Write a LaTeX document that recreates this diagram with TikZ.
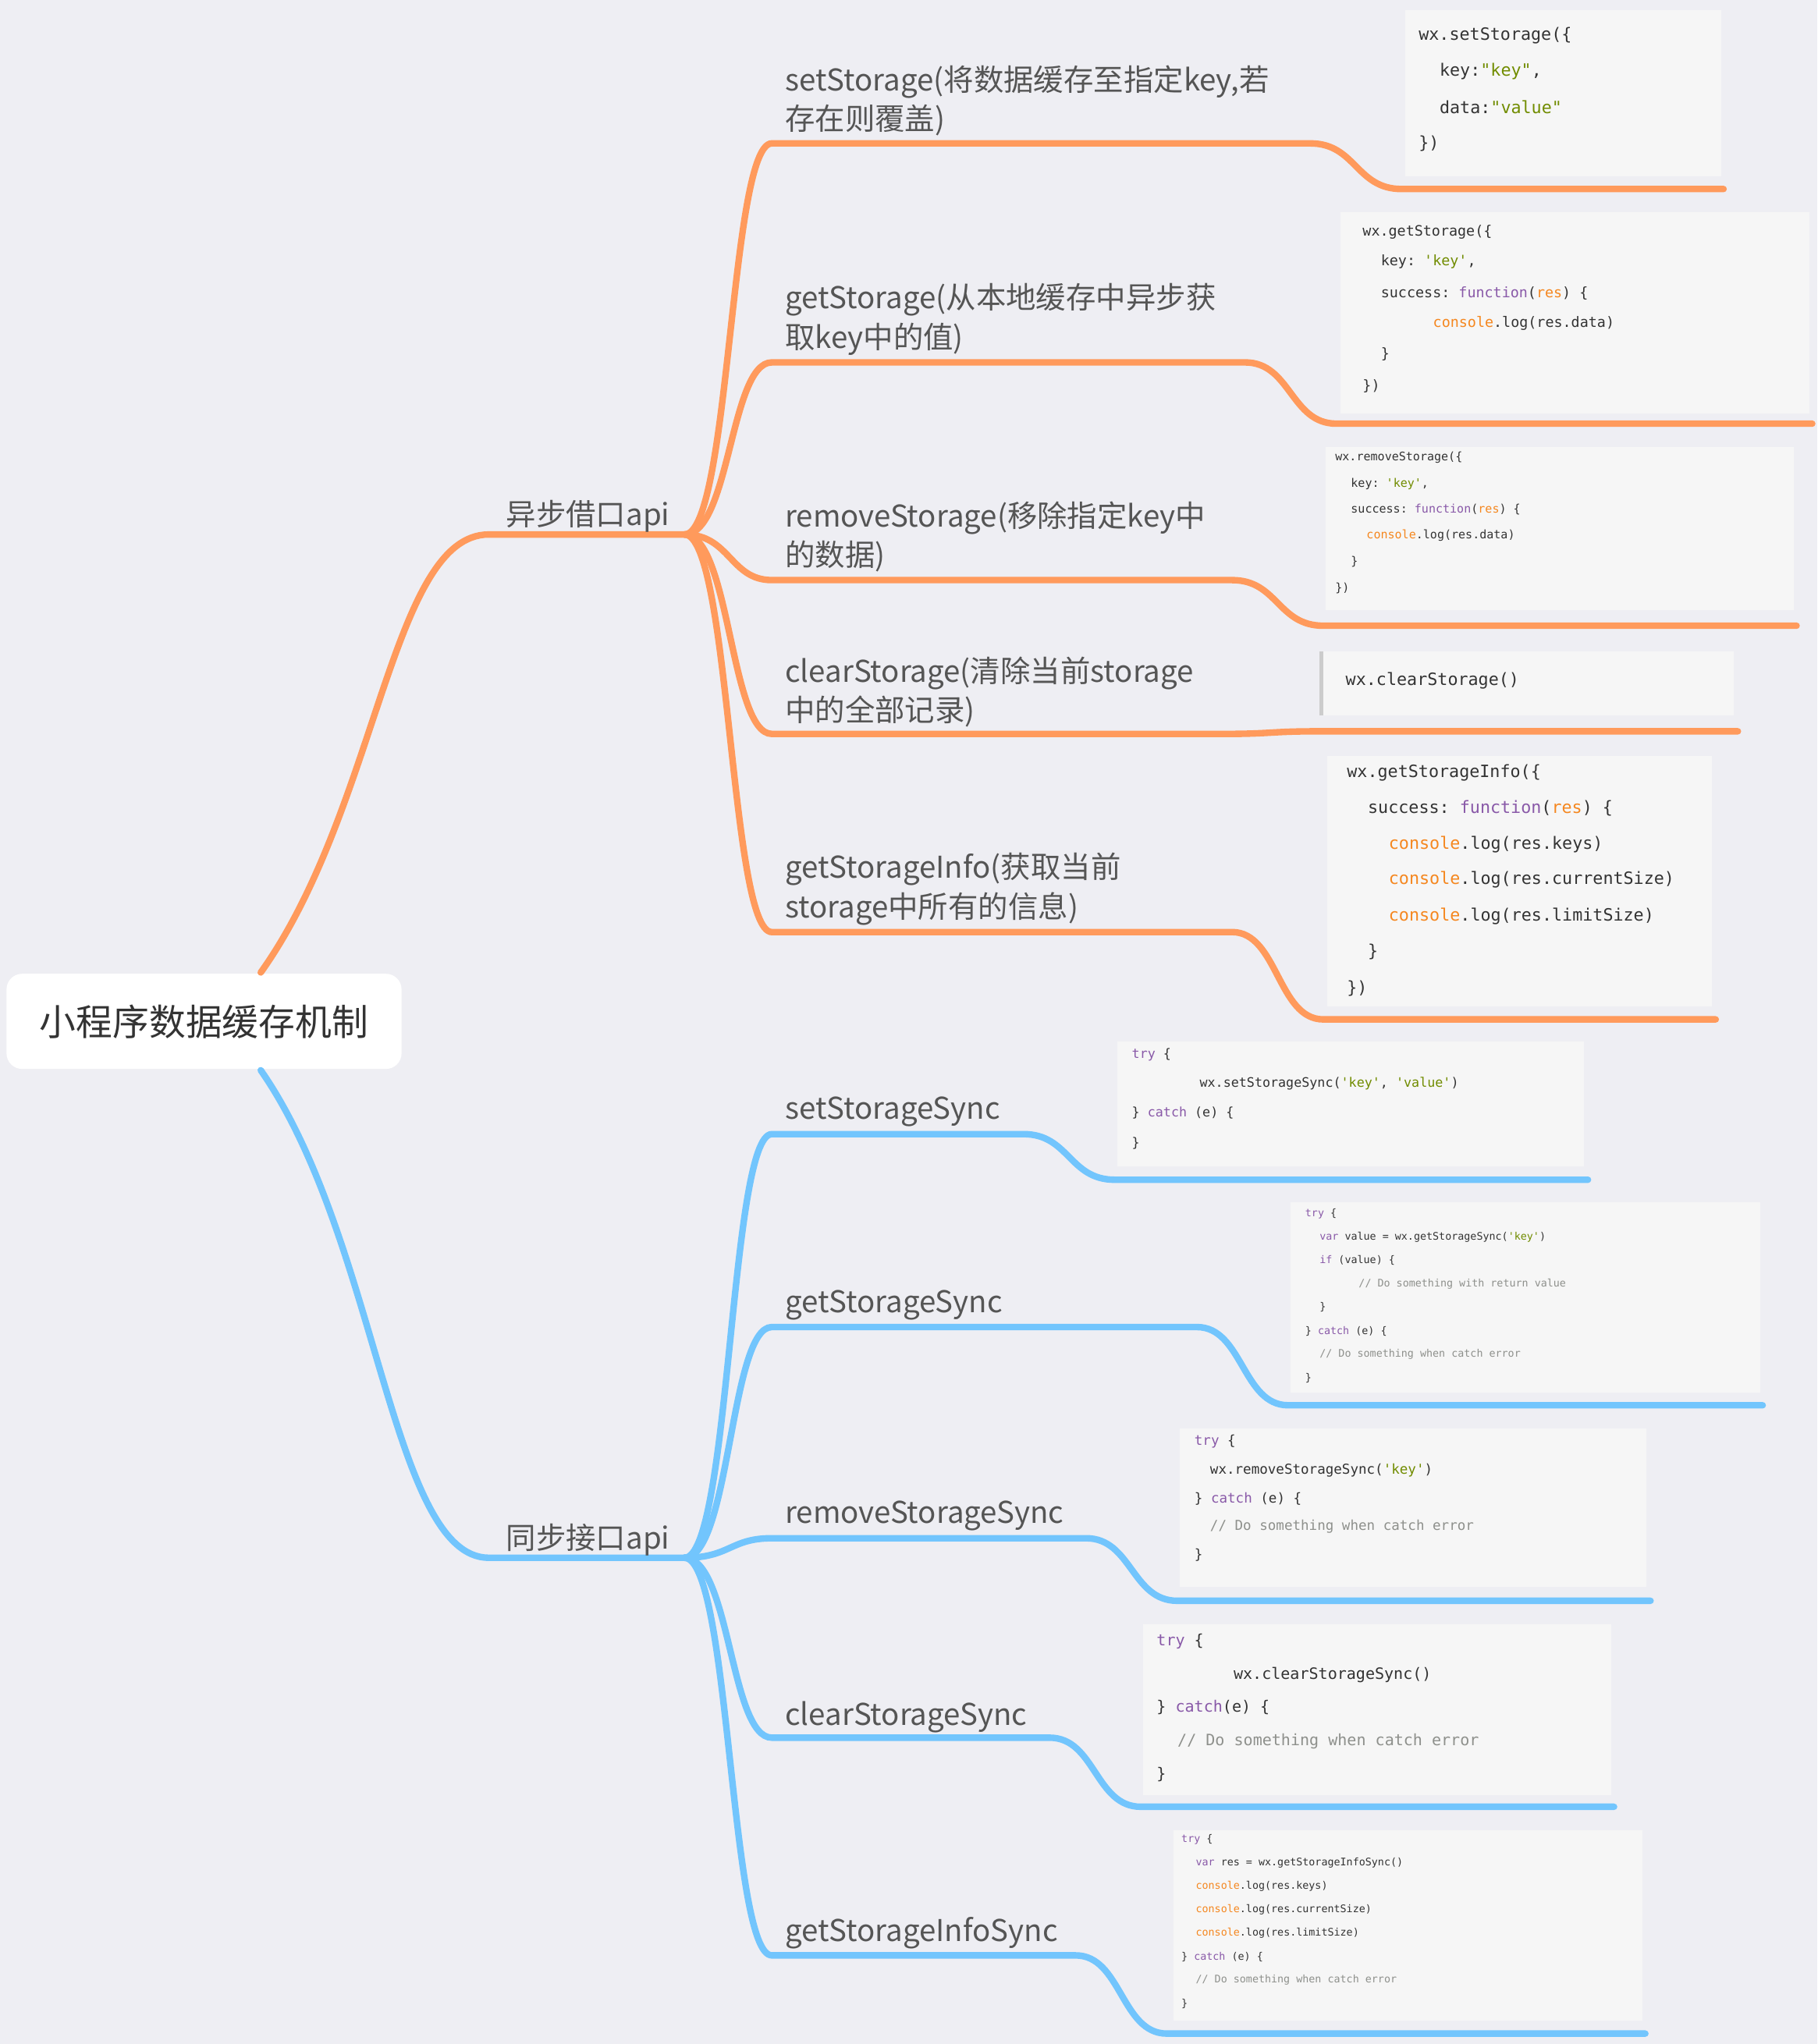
\documentclass[tikz,border=0pt]{standalone}
\usepackage{fontspec}
\setmainfont{Noto Sans CJK SC}
\setmonofont{DejaVu Sans Mono}
\definecolor{bg}{HTML}{EEEEF3}
\definecolor{org}{HTML}{FF9A5C}
\definecolor{blu}{HTML}{72C5FD}
\definecolor{lbl}{HTML}{555555}
\definecolor{cbox}{HTML}{F6F6F6}
\definecolor{kw}{HTML}{8959A8}
\definecolor{st}{HTML}{718C00}
\definecolor{co}{HTML}{F5871F}
\definecolor{cm}{HTML}{8E908C}
\definecolor{tx}{HTML}{333333}
\newcommand{\K}[1]{\textcolor{kw}{#1}}
\newcommand{\Sg}[1]{\textcolor{st}{#1}}
\newcommand{\Cn}[1]{\textcolor{co}{#1}}
\newcommand{\Cm}[1]{\textcolor{cm}{#1}}
\begin{document}
\begin{tikzpicture}[x=1pt,y=-1pt,
  lab/.style={anchor=west,text=lbl,font=\fontsize{23}{30}\selectfont,align=left,inner sep=0pt},
  sub/.style={anchor=base west,text=lbl,font=\fontsize{23}{28}\selectfont,inner sep=0pt},
  box/.style={fill=cbox,draw=none},
  code/.style={anchor=west,text=tx,inner sep=0pt},
  ol/.style={draw=org,line width=5pt,line cap=round},
  bl/.style={draw=blu,line width=5pt,line cap=round}]
\fill[bg] (0,0) rectangle (1394,1568);
\useasboundingbox (0,0) rectangle (1394,1568);
% code boxes
\fill[box] (1078,8) rectangle (1320,135);
\fill[box] (1028,163) rectangle (1388,317);
\fill[box] (1017,343) rectangle (1376,468);
\fill[box] (1012,500) rectangle (1330,549);
\fill[lbl!30] (1012,500) rectangle (1015,549);
\fill[box] (1018,580) rectangle (1313,772);
\fill[box] (857,799) rectangle (1215,895);
\fill[box] (990,922) rectangle (1350,1068);
\fill[box] (905,1096) rectangle (1263,1217);
\fill[box] (877,1246) rectangle (1236,1377);
\fill[box] (900,1404) rectangle (1260,1550);
% root
\node[fill=white,rounded corners=12pt,minimum width=303pt,minimum height=73pt,text=tx,font=\fontsize{28}{32}\selectfont] (root) at (156.5,783.5) {小程序数据缓存机制};
\coordinate (ra) at (200,746);
\coordinate (rb) at (200,821);
\coordinate (A) at (525,410);
\coordinate (B) at (525,1195);
\draw[ol] (ra) .. controls (290,620) and (300,410) .. (375,410) -- (A);
\draw[bl] (rb) .. controls (290,950) and (300,1195) .. (375,1195) -- (B);
\node[sub] (na) at (388,403) {异步借口api};
\node[sub] (nb) at (388,1188) {同步接口api};
% orange branches
\foreach \y/\xe/\yb/\xf [count=\i] in {110/1005/145/1322, 278/955/325/1390, 445/945/480/1378, 563/940/561/1333, 715/945/782/1316}{
  \coordinate (o\i) at (592,\y);
  \draw[ol] (A) .. controls (560,410) and (560,\y) .. (o\i) -- (\xe,\y) .. controls (\xe+35,\y) and (\xe+35,\yb) .. (\xe+70,\yb) -- (\xf,\yb);
}
\foreach \y/\xe/\yb/\xf [count=\i] in {870/785/905/1218, 1018/918/1078/1352, 1180/833/1228/1266, 1333/805/1386/1238, 1500/825/1560/1262}{
  \coordinate (b\i) at (592,\y);
  \draw[bl] (B) .. controls (560,1195) and (560,\y) .. (b\i) -- (\xe,\y) .. controls (\xe+35,\y) and (\xe+35,\yb) .. (\xe+70,\yb) -- (\xf,\yb);
}
\node[lab] (l1) at (602,77) {setStorage(将数据缓存至指定key,若\\存在则覆盖)};
\node[lab] (l2) at (602,245) {getStorage(从本地缓存中异步获\\取key中的值)};
\node[lab] (l3) at (602,412) {removeStorage(移除指定key中\\的数据)};
\node[lab] (l4) at (602,531) {clearStorage(清除当前storage\\中的全部记录)};
\node[lab] (l5) at (602,682) {getStorageInfo(获取当前\\storage中所有的信息)};
\node[lab] (s1) at (602,853) {setStorageSync};
\node[lab] (s2) at (602,1001) {getStorageSync};
\node[lab] (s3) at (602,1163) {removeStorageSync};
\node[lab] (s4) at (602,1317) {clearStorageSync};
\node[lab] (s5) at (602,1483) {getStorageInfoSync};
% code 1
\begin{scope}[every node/.style={code,font=\ttfamily\fontsize{13}{15}\selectfont}]
\node at (1088,27) {wx.setStorage(\{};
\node at (1104,55) {key:\Sg{"key"},};
\node at (1104,82) {data:\Sg{"value"}};
\node at (1088,110) {\})};
\end{scope}
\begin{scope}[every node/.style={code,font=\ttfamily\fontsize{11}{13}\selectfont}]
\node at (1045,178) {wx.getStorage(\{};
\node at (1059,201) {key: \Sg{'key'},};
\node at (1059,225) {success: \K{function}(\Cn{res}) \{};
\node at (1099,248) {\Cn{console}.log(res.data)};
\node at (1059,272) {\}};
\node at (1045,296) {\})};
\end{scope}
\begin{scope}[every node/.style={code,font=\ttfamily\fontsize{9}{11}\selectfont}]
\node at (1024,351) {wx.removeStorage(\{};
\node at (1036,371) {key: \Sg{'key'},};
\node at (1036,391) {success: \K{function}(\Cn{res}) \{};
\node at (1048,411) {\Cn{console}.log(res.data)};
\node at (1036,431) {\}};
\node at (1024,451) {\})};
\end{scope}
\node[code,font=\ttfamily\fontsize{13}{15}\selectfont] (c4) at (1032,522) {wx.clearStorage()};
\begin{scope}[every node/.style={code,font=\ttfamily\fontsize{13}{15}\selectfont}]
\node at (1033,593) {wx.getStorageInfo(\{};
\node at (1049,620) {success: \K{function}(\Cn{res}) \{};
\node at (1065,648) {\Cn{console}.log(res.keys)};
\node at (1065,675) {\Cn{console}.log(res.currentSize)};
\node at (1065,703) {\Cn{console}.log(res.limitSize)};
\node at (1049,730) {\}};
\node at (1033,758) {\})};
\end{scope}
\begin{scope}[every node/.style={code,font=\ttfamily\fontsize{10}{12}\selectfont}]
\node at (868,809) {\K{try} \{};
\node at (920,831) {wx.setStorageSync(\Sg{'key'}, \Sg{'value'})};
\node at (868,854) {\} \K{catch} (e) \{};
\node at (868,877) {\}};
\end{scope}
\begin{scope}[every node/.style={code,font=\ttfamily\fontsize{8}{10}\selectfont}]
\node at (1001,931) {\K{try} \{};
\node at (1012,949) {\K{var} value = wx.getStorageSync(\Sg{'key'})};
\node at (1012,967) {\K{if} (value) \{};
\node at (1042,985) {\Cm{// Do something with return value}};
\node at (1012,1003) {\}};
\node at (1001,1021) {\} \K{catch} (e) \{};
\node at (1012,1039) {\Cm{// Do something when catch error}};
\node at (1001,1057) {\}};
\end{scope}
\begin{scope}[every node/.style={code,font=\ttfamily\fontsize{10.5}{12}\selectfont}]
\node at (916,1106) {\K{try} \{};
\node at (928,1128) {wx.removeStorageSync(\Sg{'key'})};
\node at (916,1150) {\} \K{catch} (e) \{};
\node at (928,1171) {\Cm{// Do something when catch error}};
\node at (916,1193) {\}};
\end{scope}
\begin{scope}[every node/.style={code,font=\ttfamily\fontsize{12}{14}\selectfont}]
\node at (887,1259) {\K{try} \{};
\node at (946,1285) {wx.clearStorageSync()};
\node at (887,1310) {\} \K{catch}(e) \{};
\node at (903,1336) {\Cm{// Do something when catch error}};
\node at (887,1361) {\}};
\end{scope}
\begin{scope}[every node/.style={code,font=\ttfamily\fontsize{8}{10}\selectfont}]
\node at (906,1411) {\K{try} \{};
\node at (917,1429) {\K{var} res = wx.getStorageInfoSync()};
\node at (917,1447) {\Cn{console}.log(res.keys)};
\node at (917,1465) {\Cn{console}.log(res.currentSize)};
\node at (917,1483) {\Cn{console}.log(res.limitSize)};
\node at (906,1501) {\} \K{catch} (e) \{};
\node at (917,1519) {\Cm{// Do something when catch error}};
\node at (906,1537) {\}};
\end{scope}
\end{tikzpicture}
\end{document}
